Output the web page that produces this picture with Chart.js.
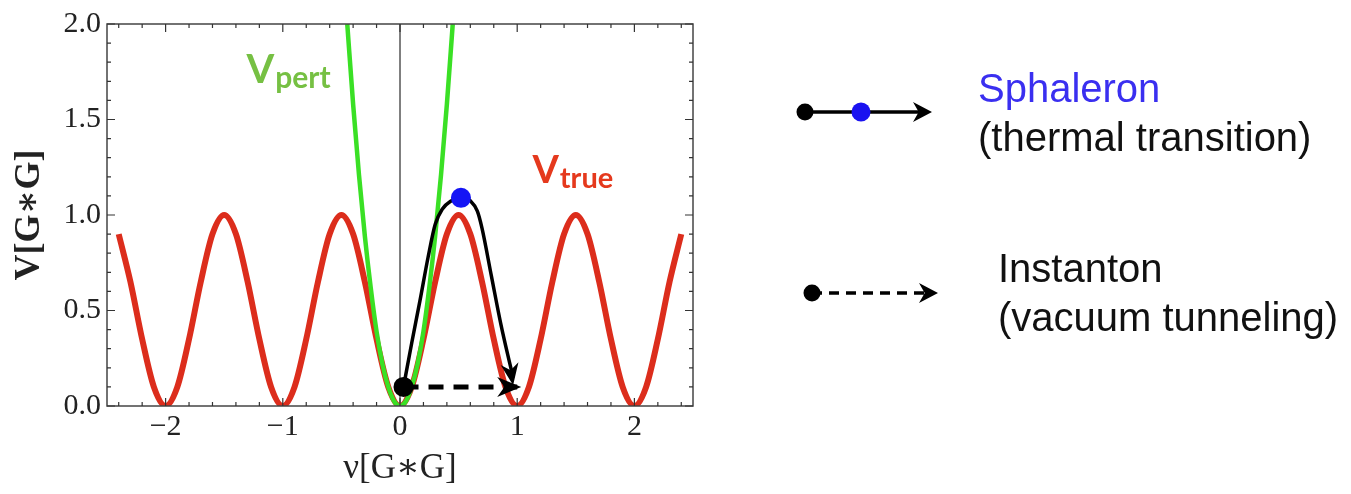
<!DOCTYPE html>
<html>
<head>
<meta charset="utf-8">
<script src="https://cdn.jsdelivr.net/npm/chart.js@4.4.1/dist/chart.umd.min.js"></script>
<style>
  html, body { margin: 0; padding: 0; background: #fff; }
  #wrap { width: 1351px; height: 494px; }
</style>
</head>
<body>
<div id="wrap"><canvas id="potChart" width="1351" height="494"></canvas></div>
<script>
// =====================
// Data
// =====================
const xTicks = [-2, -1, 0, 1, 2];
const yTicks = [0, 0.5, 1.0, 1.5, 2.0];

// V_true (red)
const trueX = [-2.4, -2.3, -2.2, -2.1, -2.0, -1.9, -1.8, -1.7, -1.6, -1.5, -1.4, -1.3, -1.2, -1.1, -1.0,
  -0.9, -0.8, -0.7, -0.6, -0.5, -0.4, -0.3, -0.2, -0.1, 0, 0.1, 0.2, 0.3, 0.4, 0.5, 0.6, 0.7, 0.8, 0.9,
  1.0, 1.1, 1.2, 1.3, 1.4, 1.5, 1.6, 1.7, 1.8, 1.9, 2.0, 2.1, 2.2, 2.3, 2.4];
const trueY = [0.9, 0.65, 0.35, 0.1, 0, 0.1, 0.35, 0.65, 0.9, 1.0, 0.9, 0.65, 0.35, 0.1, 0,
  0.1, 0.35, 0.65, 0.9, 1.0, 0.9, 0.65, 0.35, 0.1, 0, 0.1, 0.35, 0.65, 0.9, 1.0, 0.9, 0.65, 0.35, 0.1,
  0, 0.1, 0.35, 0.65, 0.9, 1.0, 0.9, 0.65, 0.35, 0.1, 0, 0.1, 0.35, 0.65, 0.9];

// V_pert (green)
const pertX = [-0.45, -0.4, -0.35, -0.3, -0.25, -0.2, -0.15, -0.1, -0.05, 0, 0.05, 0.1, 0.15, 0.2, 0.25, 0.3, 0.35, 0.4, 0.45];
const pertY = [2.0, 1.58, 1.21, 0.89, 0.62, 0.39, 0.22, 0.1, 0.025, 0, 0.025, 0.1, 0.22, 0.39, 0.62, 0.89, 1.21, 1.58, 2.0];

// sphaleron path (black, over the barrier)
const sphX = [0.03, 0.1, 0.17, 0.24, 0.3, 0.36, 0.44, 0.52, 0.6, 0.66, 0.7, 0.78, 0.86, 0.93, 0.965];
const sphY = [0.1, 0.33, 0.55, 0.78, 0.95, 1.03, 1.075, 1.095, 1.075, 1.02, 0.93, 0.68, 0.43, 0.24, 0.15];

// instanton path (dashed, through the barrier)
const instX = [0.03, 1.0];
const instY = [0.1, 0.1];

// start point and top of barrier
const startPt = { x: 0.03, y: 0.1 };
const topPt = { x: 0.52, y: 1.09 };

const zip = (xs, ys) => xs.map((x, i) => ({ x: x, y: ys[i] }));

const serif = "'Liberation Serif', 'DejaVu Serif', serif";
const sans = "'Liberation Sans', Arial, sans-serif";

// =====================
// Arrowhead helper
// =====================
function arrowHead(ctx, x0, y0, x1, y1, len, half, color) {
  const a = Math.atan2(y1 - y0, x1 - x0);
  const c = Math.cos(a), s = Math.sin(a);
  ctx.save();
  ctx.fillStyle = color;
  ctx.beginPath();
  ctx.moveTo(x1, y1);
  ctx.lineTo(x1 - len * c + half * s, y1 - len * s - half * c);
  ctx.lineTo(x1 - len * 0.7 * c, y1 - len * 0.7 * s);
  ctx.lineTo(x1 - len * c - half * s, y1 - len * s + half * c);
  ctx.closePath();
  ctx.fill();
  ctx.restore();
}

// =====================
// Frame, inward ticks, labels, legend
// =====================
const decor = {
  id: "decor",
  beforeDraw(chart) {
    const ctx = chart.ctx;
    ctx.save();
    ctx.fillStyle = "#fff";
    ctx.fillRect(0, 0, chart.width, chart.height);
    ctx.restore();
  },
  afterDatasetsDraw(chart) {
    const ctx = chart.ctx;
    const area = chart.chartArea;
    const xs = chart.scales.x, ys = chart.scales.y;

    // arrowheads on the two paths
    const sph = chart.getDatasetMeta(3).data;
    const a1 = sph[sph.length - 2], b1 = sph[sph.length - 1];
    arrowHead(ctx, a1.x, a1.y, b1.x, b1.y + 8, 22, 9, "#000");
    const inst = chart.getDatasetMeta(4).data;
    arrowHead(ctx, inst[0].x, inst[0].y, inst[1].x + 4, inst[1].y, 24, 10, "#000");

    // frame
    ctx.save();
    ctx.strokeStyle = "#444";
    ctx.lineWidth = 1.5;
    ctx.strokeRect(area.left, area.top, area.right - area.left, area.bottom - area.top);

    // ticks pointing inward, all four sides
    ctx.lineWidth = 1.2;
    ctx.strokeStyle = "#333";
    ctx.beginPath();
    for (let i = -12; i <= 12; i++) {
      const v = i / 5;
      const px = xs.getPixelForValue(v);
      const L = (i % 5 === 0) ? 8 : 4;
      ctx.moveTo(px, area.bottom); ctx.lineTo(px, area.bottom - L);
      ctx.moveTo(px, area.top); ctx.lineTo(px, area.top + L);
    }
    for (let i = 0; i <= 20; i++) {
      const v = i / 10;
      const py = ys.getPixelForValue(v);
      const L = (i % 5 === 0) ? 8 : 4;
      ctx.moveTo(area.left, py); ctx.lineTo(area.left + L, py);
      ctx.moveTo(area.right, py); ctx.lineTo(area.right - L, py);
    }
    ctx.stroke();

    // curve labels
    ctx.textBaseline = "alphabetic";
    let px = xs.getPixelForValue(-1.31), py = ys.getPixelForValue(1.69);
    ctx.fillStyle = "#76c043";
    ctx.font = "bold 40px Lato, 'Open Sans', sans-serif";
    ctx.fillText("V", px, py);
    let w = ctx.measureText("V").width;
    ctx.font = "bold 30px Lato, 'Open Sans', sans-serif";
    ctx.fillText("pert", px + w + 1, py + 5);

    px = xs.getPixelForValue(1.13); py = ys.getPixelForValue(1.17);
    ctx.fillStyle = "#e5391d";
    ctx.font = "bold 38px Lato, 'Open Sans', sans-serif";
    ctx.fillText("V", px, py);
    w = ctx.measureText("V").width;
    ctx.font = "bold 29px Lato, 'Open Sans', sans-serif";
    ctx.fillText("true", px + w + 1, py + 5);
    ctx.restore();
  },
  afterDraw(chart) {
    // legend on the right
    const ctx = chart.ctx;
    ctx.save();
    // sphaleron symbol
    ctx.strokeStyle = "#000";
    ctx.lineWidth = 3.5;
    ctx.beginPath();
    ctx.moveTo(805, 112); ctx.lineTo(924, 112);
    ctx.stroke();
    arrowHead(ctx, 805, 112, 932, 112, 19, 10, "#000");
    ctx.fillStyle = "#000";
    ctx.beginPath(); ctx.arc(805, 112, 8.5, 0, Math.PI * 2); ctx.fill();
    ctx.fillStyle = "#1a12f0";
    ctx.beginPath(); ctx.arc(861, 112, 9.5, 0, Math.PI * 2); ctx.fill();

    // instanton symbol
    ctx.strokeStyle = "#000";
    ctx.lineWidth = 3.5;
    ctx.setLineDash([10, 7]);
    ctx.beginPath();
    ctx.moveTo(812, 293); ctx.lineTo(928, 293);
    ctx.stroke();
    ctx.setLineDash([]);
    arrowHead(ctx, 812, 293, 938, 293, 19, 10, "#000");
    ctx.fillStyle = "#000";
    ctx.beginPath(); ctx.arc(812, 293, 8.5, 0, Math.PI * 2); ctx.fill();

    // texts
    ctx.textBaseline = "alphabetic";
    ctx.font = "40px " + sans;
    ctx.fillStyle = "#3a2ff0";
    ctx.fillText("Sphaleron", 978, 102);
    ctx.fillStyle = "#111";
    ctx.fillText("(thermal transition)", 978, 151);
    ctx.fillText("Instanton", 998, 282);
    ctx.fillText("(vacuum tunneling)", 998, 331);
    ctx.restore();
  }
};

// =====================
// Chart
// =====================
const ctx = document.getElementById("potChart");
new Chart(ctx, {
  type: "scatter",
  data: {
    datasets: [
      { // start dot and barrier-top dot (on top)
        data: [startPt, topPt],
        showLine: false,
        pointRadius: 10,
        pointBackgroundColor: ["#000", "#1414f5"],
        pointBorderWidth: 0,
        order: 0
      },
      { // vertical axis line at x = 0
        data: [{ x: 0, y: 0 }, { x: 0, y: 2 }],
        showLine: true,
        borderColor: "#000",
        borderWidth: 1,
        pointRadius: 0,
        order: 6
      },
      { // V_true
        data: zip(trueX, trueY),
        showLine: true,
        borderColor: "#dc2d1c",
        borderWidth: 6,
        pointRadius: 0,
        cubicInterpolationMode: "monotone",
        order: 5
      },
      { // sphaleron path
        data: zip(sphX, sphY),
        showLine: true,
        borderColor: "#000",
        borderWidth: 3.5,
        pointRadius: 0,
        cubicInterpolationMode: "monotone",
        order: 2
      },
      { // instanton path
        data: zip(instX, instY),
        showLine: true,
        borderColor: "#000",
        borderWidth: 5,
        borderDash: [15, 10],
        pointRadius: 0,
        order: 1
      },
      { // V_pert
        data: zip(pertX, pertY),
        showLine: true,
        borderColor: "#3ae025",
        borderWidth: 4.5,
        pointRadius: 0,
        cubicInterpolationMode: "monotone",
        order: 3
      }
    ]
  },
  options: {
    responsive: false,
    animation: false,
    events: [],
    layout: { padding: { left: 0, right: 658, top: 23, bottom: 0 } },
    plugins: {
      legend: { display: false },
      tooltip: { enabled: false }
    },
    scales: {
      x: {
        type: "linear",
        min: -2.5,
        max: 2.5,
        afterBuildTicks: (scale) => { scale.ticks = xTicks.map(v => ({ value: v })); },
        afterFit: (scale) => { scale.height = 88; },
        ticks: {
          color: "#222",
          font: { family: serif, size: 30 },
          padding: 3,
          maxRotation: 0,
          callback: (v) => (v < 0 ? "\u2212" + Math.abs(v) : String(v))
        },
        grid: { display: false, drawTicks: false },
        border: { display: false },
        title: {
          display: true,
          text: "\u03bd[G\u2217G]",
          color: "#222",
          font: { family: serif, size: 35 },
          padding: { top: 0, bottom: 4 }
        }
      },
      y: {
        min: 0,
        max: 2,
        afterBuildTicks: (scale) => { scale.ticks = yTicks.map(v => ({ value: v })); },
        afterFit: (scale) => { scale.width = 107; },
        ticks: {
          color: "#222",
          font: { family: serif, size: 30 },
          padding: 6,
          callback: (v) => v.toFixed(1)
        },
        grid: { display: false, drawTicks: false },
        border: { display: false },
        title: {
          display: true,
          text: "V[G\u2217G]",
          color: "#222",
          font: { family: serif, size: 36, weight: "bold" },
          padding: { top: 8, bottom: 0 }
        }
      }
    }
  },
  plugins: [decor]
});
</script>
</body>
</html>
